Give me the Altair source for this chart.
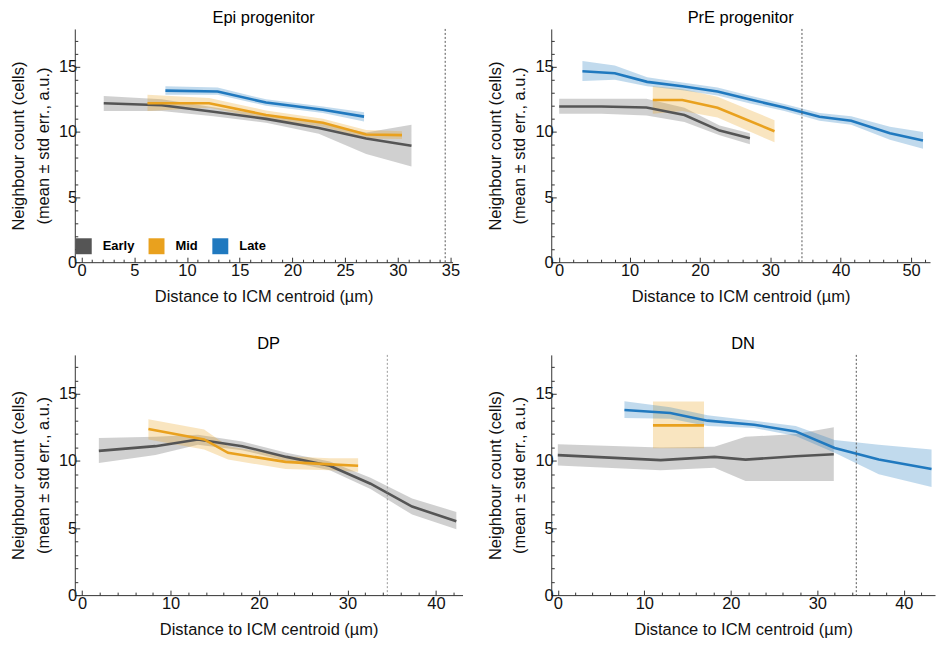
import altair as alt
import pandas as pd

STAGES = ["Early", "Mid", "Late"]
COLORS = ["#555555", "#E9A11E", "#2079BF"]
VLINE = [34.5]
Y_TITLE = ["Neighbour count (cells)", "(mean \u00b1 std err., a.u.)"]
X_TITLE = "Distance to ICM centroid (\u00b5m)"

# ---- Epi progenitor ----
epi_early_x = [2.1, 7.6, 12.5, 17.5, 22.5, 27.0, 31.3]
epi_early_m = [12.2, 12.05, 11.55, 11.0, 10.3, 9.5, 8.93]
epi_early_lo = [11.6, 11.6, 11.2, 10.7, 9.85, 8.3, 7.35]
epi_early_hi = [12.75, 12.5, 11.9, 11.3, 10.7, 9.95, 10.55]
epi_mid_x = [6.25, 12.1, 17.5, 22.9, 27.0, 30.4]
epi_mid_m = [12.2, 12.2, 11.3, 10.7, 9.8, 9.75]
epi_mid_lo = [11.6, 11.85, 11.0, 10.4, 9.5, 9.45]
epi_mid_hi = [12.85, 12.6, 11.65, 11.0, 10.15, 10.05]
epi_late_x = [7.95, 12.9, 17.5, 22.9, 26.8]
epi_late_m = [13.17, 13.1, 12.25, 11.7, 11.17]
epi_late_lo = [12.85, 12.85, 12.0, 11.45, 10.8]
epi_late_hi = [13.5, 13.4, 12.5, 11.95, 11.5]

# ---- PrE progenitor ----
pre_early_x = [0.0, 6.0, 12.4, 17.8, 22.8, 27.1]
pre_early_m = [11.95, 11.95, 11.87, 11.3, 10.1, 9.52]
pre_early_lo = [11.4, 11.4, 11.25, 10.75, 9.75, 9.05]
pre_early_hi = [12.55, 12.55, 12.55, 11.85, 10.5, 9.9]
pre_mid_x = [13.3, 17.5, 22.5, 30.6]
pre_mid_m = [12.45, 12.45, 11.85, 10.05]
pre_mid_lo = [11.4, 11.6, 11.1, 9.2]
pre_mid_hi = [13.5, 13.3, 12.7, 10.9]
pre_late_x = [3.3, 7.9, 12.5, 17.5, 22.5, 27.0, 32.0, 37.0, 41.5, 47.0, 51.7]
pre_late_m = [14.65, 14.5, 13.84, 13.5, 13.1, 12.5, 11.87, 11.16, 10.86, 9.9, 9.34]
pre_late_lo = [13.9, 14.0, 13.5, 13.2, 12.8, 12.2, 11.6, 10.85, 10.55, 9.4, 8.7]
pre_late_hi = [15.45, 15.1, 14.2, 13.8, 13.4, 12.8, 12.15, 11.45, 11.2, 10.4, 10.0]

# ---- DP ----
dp_early_x = [1.9, 8.3, 13.1, 18.1, 23.1, 28.0, 32.6, 37.3, 42.3]
dp_early_m = [10.75, 11.1, 11.6, 11.1, 10.3, 9.64, 8.3, 6.6, 5.5]
dp_early_lo = [9.85, 10.45, 11.2, 10.8, 10.0, 9.3, 7.9, 6.0, 4.9]
dp_early_hi = [11.7, 11.8, 11.95, 11.45, 10.6, 9.95, 8.75, 7.2, 6.2]
dp_mid_x = [7.5, 13.8, 16.5, 23.0, 28.0, 31.2]
dp_mid_m = [12.38, 11.6, 10.6, 9.93, 9.74, 9.64]
dp_mid_lo = [11.6, 10.85, 10.1, 9.4, 9.3, 9.2]
dp_mid_hi = [13.1, 12.35, 11.1, 10.35, 10.2, 10.2]

# ---- DN ----
dn_early_x = [0.0, 11.9, 18.1, 21.7, 27.5, 31.9]
dn_early_m = [10.43, 10.06, 10.3, 10.1, 10.35, 10.5]
dn_early_lo = [9.65, 9.3, 9.5, 8.5, 8.5, 8.5]
dn_early_hi = [11.25, 11.0, 11.05, 11.8, 12.0, 12.5]
dn_mid_x = [11.0, 16.9]
dn_mid_m = [12.65, 12.65]
dn_mid_lo = [10.95, 10.95]
dn_mid_hi = [14.43, 14.43]
dn_late_x = [7.7, 13.0, 17.3, 22.7, 27.5, 32.0, 37.1, 43.2]
dn_late_m = [13.8, 13.57, 13.0, 12.7, 12.2, 10.97, 10.1, 9.4]
dn_late_lo = [13.2, 13.15, 12.6, 12.45, 11.85, 10.6, 9.0, 8.05]
dn_late_hi = [14.45, 14.0, 13.4, 13.0, 12.6, 11.55, 11.2, 10.85]

FONT = "Liberation Sans"


def make_df(series):
    rows = []
    for stage, (xs, ms, los, his) in series.items():
        for a, b, c, d in zip(xs, ms, los, his):
            rows.append(dict(stage=stage, x=a, mean=b, lo=c, hi=d))
    return pd.DataFrame(rows)


def panel(title, series, xdom, xmajor, xminor, width, height, legend=False, vcolor="#555555"):
    df = make_df(series)
    xvals = list(range(0, int(xdom[1]) + 1, xminor))
    xaxis = alt.Axis(
        values=xvals,
        labelExpr=f"datum.value % {xmajor} === 0 ? datum.label : ''",
        tickSize={"condition": {"test": f"datum.value % {xmajor} === 0", "value": -5}, "value": -3},
        title=X_TITLE,
        labelOverlap=False,
        labelFlush=False,
        labelPadding=5,
        titlePadding=8,
    )
    yaxis = alt.Axis(
        values=list(range(0, 18)),
        labelExpr="datum.value % 5 === 0 ? datum.label : ''",
        tickSize={"condition": {"test": "datum.value % 5 === 0", "value": -5}, "value": -3},
        title=Y_TITLE,
        labelOverlap=False,
        labelFlush=False,
        labelPadding=3,
        titlePadding=7,
        titleLineHeight=25,
    )
    xs = alt.Scale(domain=list(xdom), nice=False, zero=False)
    ys = alt.Scale(domain=[0, 17.9], nice=False)
    cscale = alt.Scale(domain=STAGES, range=COLORS)
    if legend:
        leg = alt.Legend(
            orient="none", legendX=1, legendY=210, direction="horizontal",
            title=None, symbolType="square", symbolSize=256, symbolOpacity=1,
            symbolStrokeWidth=0, labelFont=FONT, labelFontWeight="bold",
            labelFontSize=13, labelColor="black", columnPadding=14,
            labelOffset=11, padding=0,
        )
    else:
        leg = None
    base = alt.Chart(df)
    band = base.mark_area(opacity=0.28).encode(
        x=alt.X("x:Q", scale=xs, axis=xaxis),
        y=alt.Y("lo:Q", scale=ys, axis=yaxis),
        y2="hi:Q",
        color=alt.Color("stage:N", scale=cscale, legend=leg),
        detail="stage:N",
    )
    line = base.mark_line(strokeWidth=2.6).encode(
        x=alt.X("x:Q", scale=xs, axis=xaxis),
        y=alt.Y("mean:Q", scale=ys, axis=yaxis),
        color=alt.Color("stage:N", scale=cscale, legend=None),
        detail="stage:N",
    )
    rule = alt.Chart(pd.DataFrame({"v": VLINE})).mark_rule(
        color=vcolor, strokeDash=[2, 2], strokeWidth=1
    ).encode(x=alt.X("v:Q", scale=xs, axis=xaxis))
    return alt.layer(band, line, rule).properties(
        width=width, height=height,
        title=alt.Title(title, font=FONT, fontSize=16.5, fontWeight="normal", offset=2, color="black"),
    )


p1 = panel("Epi progenitor", {
    "Early": (epi_early_x, epi_early_m, epi_early_lo, epi_early_hi),
    "Mid": (epi_mid_x, epi_mid_m, epi_mid_lo, epi_mid_hi),
    "Late": (epi_late_x, epi_late_m, epi_late_lo, epi_late_hi),
}, (-0.65, 35.2), 5, 1, 379, 234, legend=True)

p2 = panel("PrE progenitor", {
    "Early": (pre_early_x, pre_early_m, pre_early_lo, pre_early_hi),
    "Mid": (pre_mid_x, pre_mid_m, pre_mid_lo, pre_mid_hi),
    "Late": (pre_late_x, pre_late_m, pre_late_lo, pre_late_hi),
}, (-1.13, 52.7), 10, 2, 380, 234)

p3 = panel("DP", {
    "Early": (dp_early_x, dp_early_m, dp_early_lo, dp_early_hi),
    "Mid": (dp_mid_x, dp_mid_m, dp_mid_lo, dp_mid_hi),
}, (-0.82, 43.0), 10, 2, 389, 241, vcolor="#999999")

p4 = panel("DN", {
    "Early": (dn_early_x, dn_early_m, dn_early_lo, dn_early_hi),
    "Mid": (dn_mid_x, dn_mid_m, dn_mid_lo, dn_mid_hi),
    "Late": (dn_late_x, dn_late_m, dn_late_lo, dn_late_hi),
}, (-0.76, 43.6), 10, 2, 385, 241)

chart = alt.concat(
    p1, p2, p3, p4, columns=2, spacing={"row": 93, "column": 89},
    bounds="flush", align="each",
).resolve_legend(color="independent").resolve_scale(color="independent").properties(
    padding={"left": 2, "top": 1, "right": 0, "bottom": 0}
).configure_axis(
    grid=False,
    domainColor="#333333",
    tickColor="#333333",
    labelFont=FONT,
    labelFontSize=16.5,
    labelColor="#111111",
    titleFont=FONT,
    titleFontSize=16.5,
    titleFontWeight="normal",
    titleColor="#111111",
).configure_view(stroke=None)

chart.save("out.html", embed_options={"renderer": "svg", "actions": False})
